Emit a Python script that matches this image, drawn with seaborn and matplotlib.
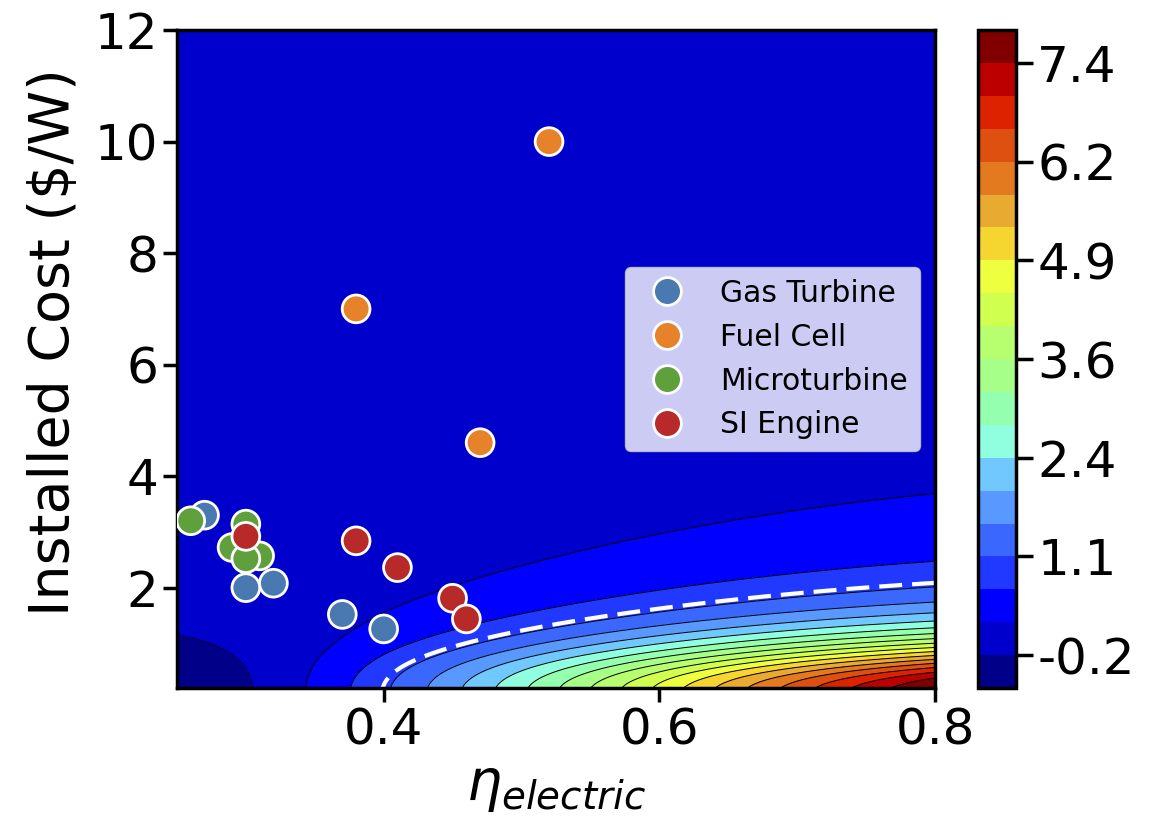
import numpy as np
import pandas as pd
import matplotlib
matplotlib.use("Agg")
import matplotlib.pyplot as plt
import seaborn as sns
from matplotlib.colors import ListedColormap

# ---------------- data ----------------
technologies = ["Gas Turbine", "Fuel Cell", "Microturbine", "SI Engine"]

gt_eta = [0.27, 0.30, 0.32, 0.37, 0.40]
gt_cost = [3.30, 2.00, 2.08, 1.52, 1.26]

fc_eta = [0.38, 0.47, 0.52]
fc_cost = [7.00, 4.60, 10.00]

mt_eta = [0.26, 0.30, 0.29, 0.31, 0.30]
mt_cost = [3.20, 3.14, 2.72, 2.57, 2.52]

si_eta = [0.30, 0.38, 0.41, 0.45, 0.46]
si_cost = [2.92, 2.84, 2.36, 1.81, 1.44]

palette = ["#4a78b0", "#e6822a", "#5fa03c", "#b82a2a"]

# contour surface: value along the lowest-cost edge (anchors)
anchor_eta = [0.25, 0.3435, 0.528, 0.80]
anchor_val = [-0.6085, 0.238, 3.21, 7.8615]
# roll-off with cost: half-value cost and steepness
half_eta = [0.25, 0.40, 0.80]
half_cost = [0.84, 1.00, 1.017]
steepness = 2.7
dashed_level = [1.0]

band_colors = ["#000088", "#0000cc", "#0000ff", "#2038ff", "#3a68ff", "#5898ff",
               "#70c8ff", "#90ffe0", "#95ffb0", "#a5ff88", "#b8ff70", "#d0ff50",
               "#eeff40", "#f5d530", "#e8aa30", "#e47a20", "#de5010", "#dd2200",
               "#bc0000", "#800000"]

x_ticks = [0.4, 0.6, 0.8]
y_ticks = [2, 4, 6, 8, 10, 12]

# ---------------- figure ----------------
sns.set_style("ticks")
plt.rcParams["font.family"] = ["DejaVu Sans"]
for k in ["text.color", "axes.labelcolor", "xtick.color", "ytick.color", "axes.edgecolor"]:
    plt.rcParams[k] = "black"

fig = plt.figure(figsize=(11.49, 8.36), dpi=100)
ax = fig.add_axes([0.154, 0.177, 0.6597, 0.787])
cax = fig.add_axes([0.851, 0.177, 0.033, 0.787])

eta = np.linspace(0.25, 0.80, 300)
cost = np.linspace(0.2, 12.0, 500)
E, C = np.meshgrid(eta, cost)
coef = np.polyfit(anchor_eta, anchor_val, 3)
base = np.polyval(coef, E)
c0 = np.interp(E, half_eta, half_cost)
Z = base * (1 + (cost[0] / c0) ** steepness) / (1 + (C / c0) ** steepness)

levels = np.linspace(Z.min(), Z.max(), 21)
cmap = ListedColormap(band_colors)
cf = ax.contourf(E, C, Z, levels=levels, cmap=cmap)
ax.contour(E, C, Z, levels=levels[1:-1], colors="k", linewidths=0.7)
ax.contour(E, C, Z, levels=dashed_level, colors="white", linewidths=3,
           linestyles=[(0, (5.5, 2.4))])

df = pd.concat([
    pd.DataFrame({"eta": gt_eta, "cost": gt_cost, "Technology": technologies[0]}),
    pd.DataFrame({"eta": fc_eta, "cost": fc_cost, "Technology": technologies[1]}),
    pd.DataFrame({"eta": mt_eta, "cost": mt_cost, "Technology": technologies[2]}),
    pd.DataFrame({"eta": si_eta, "cost": si_cost, "Technology": technologies[3]}),
], ignore_index=True)

sns.scatterplot(data=df, x="eta", y="cost", hue="Technology", hue_order=technologies,
                palette=palette, s=400, edgecolor="white", linewidth=2.0,
                ax=ax, zorder=5)

ax.set_xlim(0.25, 0.80)
ax.set_ylim(0.2, 12)
ax.set_xticks(x_ticks)
ax.set_xticklabels([f"{v:.1f}" for v in x_ticks])
ax.set_yticks(y_ticks)
ax.tick_params(labelsize=36, width=2.5, length=10, colors="black")
for sp in ax.spines.values():
    sp.set_linewidth(2.5)
    sp.set_color("black")

ax.set_xlabel(r"$\eta_{electric}$", fontsize=40, color="black")
ax.set_ylabel(r"Installed Cost (\$/W)", fontsize=40, color="black", labelpad=10)
ax.yaxis.label.set_y(0.525)

handles, labels = ax.get_legend_handles_labels()
leg = ax.legend(handles, labels, loc="center right", fontsize=21.5, framealpha=0.8)
for t in leg.get_texts():
    t.set_color("black")

cb = fig.colorbar(cf, cax=cax, ticks=levels[1::3], format="%.1f")
cb.ax.tick_params(labelsize=36, width=2.5, length=12, colors="black")
cb.outline.set_linewidth(2.5)
cb.outline.set_edgecolor("black")

fig.savefig("out.png", dpi=100)
